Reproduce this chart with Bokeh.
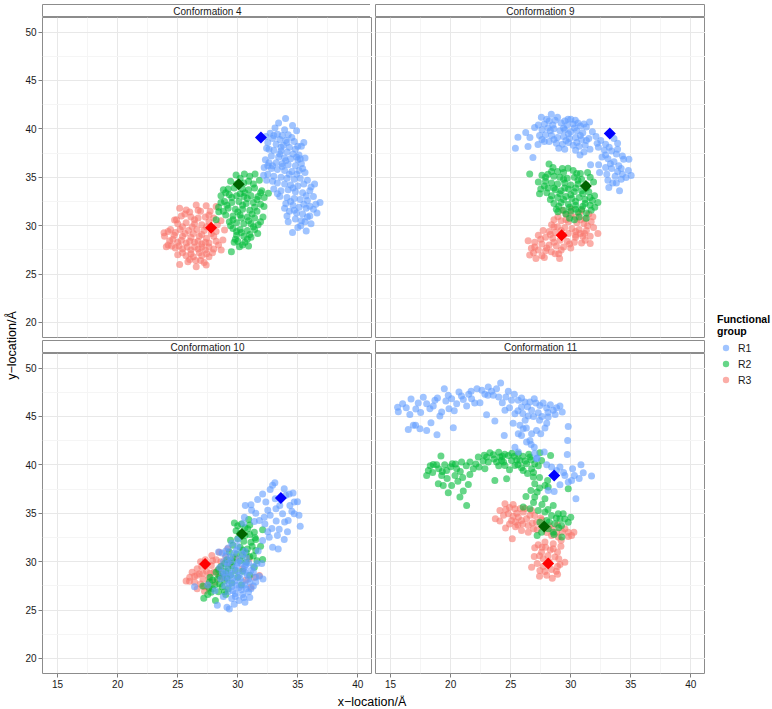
import math
from bokeh.plotting import figure
from bokeh.layouts import row, column
from bokeh.models import Range1d, LinearAxis, FixedTicker, Legend, LegendItem
from bokeh.core.properties import value
from bokeh.embed import file_html
from bokeh.resources import INLINE

# ---------------- data ----------------
GROUPS = ["R1", "R2", "R3"]
POINT_COLORS = ["#619CFF", "#00BA38", "#F8766D"]
CENTRE_COLORS = ["#0000FF", "#006400", "#FF0000"]
X_TICKS = [15, 20, 25, 30, 35, 40]
X_MINOR = [17.5, 22.5, 27.5, 32.5, 37.5]
Y_TICKS = [20, 25, 30, 35, 40, 45, 50]
Y_MINOR = [22.5, 27.5, 32.5, 37.5, 42.5, 47.5]
PANEL_TITLES = ["Conformation 4", "Conformation 9", "Conformation 10", "Conformation 11"]

C4_R1 = [(33.98,41.07),(34.56,40.34),(33.10,40.10),(32.70,39.55),(33.30,39.45),(33.70,39.30),(34.20,39.40),(34.50,39.10),
         (32.90,39.00),(33.50,38.90),(34.00,38.80),(34.70,38.70),(35.50,38.60),(35.30,38.20),(32.50,38.60),(33.20,38.40),
         (33.80,38.30),(34.30,38.10),(34.80,37.90),(32.40,38.00),(33.00,37.80),(33.60,37.70),(34.10,37.60),(34.60,37.40),
         (35.10,37.30),(32.80,37.20),(33.40,37.10),(33.90,37.00),(34.40,36.90),(35.00,36.80),(32.30,36.80),(32.60,36.50),
         (33.20,36.50),(33.70,36.40),(34.20,36.30),(34.80,36.20),(35.30,36.40),(35.60,37.00),(32.20,36.00),(32.80,35.90),
         (33.30,35.80),(33.90,35.70),(34.50,35.60),(35.10,35.70),(35.60,35.50),(32.50,35.30),(33.00,35.10),(33.60,35.00),
         (34.10,34.90),(34.70,34.80),(35.20,34.90),(32.40,34.70),(33.30,34.40),(33.90,34.30),(34.40,34.20),(35.00,34.10),
         (35.50,34.30),(36.10,34.00),(36.40,34.30),(33.00,33.80),(33.60,33.60),(34.20,33.70),(34.80,33.50),(35.40,33.40),
         (36.00,33.60),(36.30,33.00),(33.50,33.00),(34.10,32.90),(34.70,32.80),(35.20,32.70),(35.80,32.60),(36.85,32.40),
         (36.50,32.20),(34.00,32.30),(34.60,32.10),(35.10,31.90),(35.70,31.80),(36.30,31.70),(34.30,31.50),(34.90,31.30),
         (35.40,31.20),(36.00,31.00),(34.80,30.70),(35.30,30.50),(35.80,30.90),(35.25,30.00),(35.00,29.80),(35.70,29.45),
         (34.56,29.30),(34.10,31.00),(33.90,31.80),(36.10,30.20),(32.35,39.20),(32.15,35.20),
         (33.40,40.60),(34.90,39.80),(33.00,39.30),(33.90,39.90),(35.00,38.20),(32.60,37.90),(33.50,37.40),(34.90,37.10),
         (32.90,36.20),(34.00,36.70),(35.40,35.90),(34.30,35.30),(32.90,34.60),(35.80,34.70),(34.60,33.90),(33.30,33.30),
         (35.70,33.10),(34.40,32.50),(35.50,32.20),(36.60,31.30),(34.70,31.60),(35.60,30.40),(34.20,30.40),(36.00,32.00),
         (33.70,36.10),(35.20,36.90),(32.50,36.20),(34.10,38.60),(33.60,38.10),(34.90,35.30)]
C4_R2 = [(29.86,35.24),(30.55,35.34),(31.44,35.34),(31.00,35.10),(30.20,34.90),(29.40,34.60),(31.80,34.70),(28.80,33.70),
         (29.20,33.80),(29.70,33.90),(30.40,33.80),(30.90,33.70),(31.40,33.90),(32.00,33.60),(32.55,33.34),(28.60,33.10),
         (29.30,33.20),(29.90,33.10),(30.50,33.00),(31.10,33.10),(31.70,33.00),(32.20,32.90),(28.90,32.50),(29.50,32.40),
         (30.10,32.50),(30.70,32.30),(31.30,32.40),(31.90,32.20),(28.40,31.90),(29.20,31.80),(29.80,31.70),(30.40,31.70),
         (31.00,31.60),(31.60,31.50),(32.18,31.97),(28.42,31.45),(29.00,31.10),(29.60,31.00),(30.20,31.10),(30.80,30.90),
         (31.40,30.80),(32.10,30.90),(28.20,30.60),(29.30,30.40),(29.90,30.30),(30.50,30.20),(31.10,30.20),(31.70,30.10),
         (29.60,29.70),(30.20,29.60),(30.80,29.50),(31.40,29.60),(31.66,29.20),(29.90,29.00),(30.50,28.90),(31.10,28.80),
         (30.00,28.40),(30.60,28.30),(30.40,28.00),(30.14,27.83),(29.47,27.31),(29.80,28.60),
         (30.90,34.60),(29.90,34.30),(30.50,34.40),(31.30,34.30),(29.00,33.40),(31.90,33.40),(30.20,33.30),(29.50,32.90),
         (30.80,32.80),(31.60,32.70),(29.10,32.10),(30.40,32.10),(31.40,31.90),(28.80,31.50),(30.00,31.40),(31.20,31.20),
         (29.60,30.60),(30.90,30.50),(31.90,30.40),(30.30,30.80),(29.90,29.40),(31.00,29.10),(30.30,29.30),(30.80,28.60),
         (29.40,30.00),(28.60,32.40),(30.60,33.40),(31.30,29.90),(29.70,28.30),(30.90,27.90)]
C4_R3 = [(25.16,31.79),(25.71,31.62),(26.54,32.14),(27.37,32.07),(28.20,31.97),(26.00,31.40),(26.90,31.50),(27.70,31.50),
         (24.74,30.59),(25.30,31.00),(26.10,30.90),(26.70,30.80),(27.30,30.90),(28.00,30.80),(28.60,30.50),(25.00,30.20),
         (25.70,30.30),(26.40,30.20),(27.00,30.10),(28.30,30.10),(24.40,29.60),(23.86,29.28),(25.20,29.60),(25.90,29.50),
         (26.60,29.60),(27.20,29.50),(28.90,29.55),(24.70,29.00),(25.40,28.90),(26.10,28.80),(26.80,28.90),(27.40,28.70),
         (28.00,28.90),(24.33,28.45),(25.00,28.30),(25.70,28.20),(26.40,28.30),(27.00,28.10),(27.60,28.20),(28.76,28.52),
         (24.05,27.83),(24.80,27.70),(25.40,27.60),(26.10,27.50),(26.70,27.60),(27.30,27.50),(28.00,27.60),(28.62,27.48),
         (25.00,27.00),(25.70,26.90),(26.30,26.80),(27.00,26.90),(27.60,26.80),(25.85,26.28),(26.50,26.40),(27.20,26.20),
         (25.16,26.00),(26.54,25.76),(27.37,25.93),(23.90,28.90),(24.20,28.00),(28.20,29.40),(27.90,27.20),
         (25.60,31.20),(26.70,31.60),(27.60,31.10),(24.90,30.60),(26.40,30.60),(27.60,30.40),(25.40,29.90),(26.20,29.90),
         (27.40,29.90),(24.80,29.30),(25.60,29.20),(26.30,29.20),(27.00,29.10),(27.80,29.20),(24.60,28.60),(25.30,28.50),
         (26.00,28.40),(26.70,28.40),(27.30,28.30),(28.20,28.40),(24.50,27.90),(25.10,27.90),(25.80,27.80),(26.40,27.80),
         (27.00,27.80),(27.60,27.80),(25.40,27.20),(26.10,27.10),(26.80,27.20),(27.40,27.10),(26.00,26.50),(26.90,26.40),
         (28.40,28.00),(24.20,29.40)]

C9_R1 = [(25.39,38.00),(25.60,39.14),(26.25,39.62),(26.44,38.17),(26.85,37.03),(26.99,40.14),(27.27,38.38),(27.55,41.20),
         (28.38,41.50),(29.77,41.00),(30.38,40.90),(31.57,40.70),(27.80,40.50),(28.20,40.80),(28.70,40.90),(29.20,40.60),
         (29.70,40.40),(30.20,40.50),(30.80,40.30),(31.30,40.20),(27.60,39.90),(28.10,40.10),(28.60,40.00),(29.10,39.80),
         (29.50,39.90),(30.00,39.70),(30.50,39.80),(31.00,39.60),(31.80,39.70),(27.40,39.30),(27.90,39.40),(28.40,39.30),
         (28.90,39.10),(29.40,39.20),(29.90,39.00),(30.40,39.10),(30.90,38.90),(31.50,39.00),(28.20,38.70),(28.80,38.50),
         (29.30,38.40),(29.80,38.60),(30.20,38.30),(30.70,38.20),(31.20,38.30),(27.80,38.70),(29.00,38.00),(29.50,37.90),
         (30.40,37.80),(31.10,37.60),(31.60,37.90),(30.77,37.30),(31.65,36.30),(32.32,36.28),(32.40,35.50),(32.10,39.20),
         (32.50,38.80),(32.90,38.40),(33.60,39.00),(33.90,38.50),(32.30,38.10),(32.80,37.80),(33.40,37.70),(33.80,37.40),
         (32.60,37.10),(33.10,36.90),(33.60,36.60),(34.00,36.20),(34.40,36.86),(34.84,36.86),(33.40,35.90),(33.90,35.60),
         (34.30,35.30),(34.60,34.98),(35.03,35.17),(33.70,35.10),(34.20,34.80),(33.09,34.70),(33.17,33.94),(34.06,33.60),
         (33.80,34.40),
         (28.00,41.00),(28.90,41.20),(29.50,40.80),(30.00,41.00),(30.60,40.60),(28.50,40.40),(29.40,40.10),(30.30,40.10),
         (31.10,40.50),(27.30,40.40),(28.30,39.80),(29.80,39.50),(30.80,39.30),(28.60,38.90),(29.60,38.80),(30.50,38.60),
         (31.30,38.80),(26.60,39.10),(27.60,38.90),(32.20,38.50),(33.20,38.10),(33.90,37.90),(32.90,37.30),(34.30,37.20),
         (33.30,36.40),(34.20,35.90),(33.00,35.30),(34.80,35.70),(33.50,34.40),(32.90,36.00)]
C9_R2 = [(26.58,35.34),(28.19,36.38),(28.52,36.00),(29.77,35.93),(28.90,35.60),(29.40,35.50),(30.20,35.70),(30.80,35.40),
         (31.40,35.50),(27.60,35.20),(28.10,35.30),(28.60,35.10),(29.10,35.00),(29.70,34.90),(30.30,35.00),(30.90,34.80),
         (31.62,35.00),(27.30,34.50),(27.90,34.60),(28.40,34.40),(28.90,34.30),(29.50,34.40),(30.00,34.20),(30.60,34.30),
         (31.90,34.50),(27.50,33.80),(28.10,33.90),(28.70,33.70),(29.20,33.60),(29.80,33.80),(30.30,33.50),(30.90,33.60),
         (31.50,33.50),(31.98,33.08),(27.40,33.30),(28.40,33.10),(28.90,32.90),(29.60,33.00),(30.10,32.80),(30.70,32.90),
         (31.20,32.70),(31.80,32.60),(32.26,32.40),(28.60,32.30),(29.20,32.40),(29.80,32.20),(30.40,32.10),(31.00,32.00),
         (31.60,32.10),(28.80,31.70),(29.40,31.60),(30.00,31.50),(30.60,31.40),(31.30,31.30),(28.93,31.45),(29.90,30.76),
         (30.30,30.60),(31.29,30.76),(30.70,30.90),
         (28.40,35.60),(29.30,35.90),(30.50,35.40),(27.90,35.00),(29.40,34.80),(30.60,34.70),(31.30,34.20),(27.80,34.10),
         (28.60,33.90),(29.50,33.90),(30.40,33.90),(31.30,33.90),(28.00,33.40),(29.10,33.30),(30.00,33.20),(31.00,33.30),
         (31.60,32.90),(28.30,32.70),(29.40,32.70),(30.40,32.50),(31.20,32.30),(29.00,32.00),(29.90,31.90),(30.90,31.70),
         (29.60,31.20),(30.40,31.70),(31.70,31.60),(32.00,31.90)]
C9_R3 = [(30.04,31.70),(30.73,31.28),(28.93,30.93),(31.84,30.93),(29.60,31.20),(30.40,30.90),(31.20,30.70),(29.20,30.50),
         (29.80,30.40),(30.50,30.30),(31.10,30.20),(31.70,30.40),(28.40,30.10),(28.90,29.90),(29.50,29.80),(30.10,29.70),
         (30.70,29.60),(31.30,29.50),(32.26,29.20),(27.70,29.50),(28.20,29.40),(28.70,29.30),(29.80,29.20),(30.40,29.00),
         (31.00,28.90),(31.62,28.90),(27.30,29.00),(27.90,28.80),(28.50,28.70),(29.10,28.50),(29.70,28.40),(30.30,28.30),
         (30.90,28.20),(31.62,28.17),(26.45,28.45),(27.00,28.30),(27.60,28.10),(28.20,28.00),(28.80,27.90),(29.40,27.80),
         (30.00,27.70),(26.72,27.66),(27.30,27.50),(27.90,27.40),(28.38,27.30),(29.00,27.10),(26.58,26.97),(27.10,26.60),
         (27.60,26.90),(29.07,26.60),(31.15,29.20),(28.60,29.90),
         (29.30,31.60),(30.90,31.60),(30.00,31.10),(31.50,31.20),(28.60,30.60),(29.60,30.60),(30.80,30.60),(31.40,30.00),
         (29.20,29.50),(30.40,29.40),(31.90,29.80),(28.30,29.10),(29.40,29.00),(30.80,29.20),(27.50,28.60),(28.60,28.30),
         (29.90,28.10),(31.20,28.50),(27.00,27.80),(28.00,27.70),(29.20,27.50),(30.40,28.80),(26.90,27.20),(28.70,27.10),
         (27.80,26.70)]

C10_R1 = [(33.09,38.15),(33.87,37.53),(34.28,37.00),(32.70,37.46),(32.07,36.98),(31.65,36.43),(31.10,35.88),(30.63,35.80),
          (31.15,35.30),(34.70,36.15),(34.97,36.20),(34.70,34.95),(35.10,34.80),(35.20,33.67),(34.20,34.26),(33.73,34.95),
          (33.18,35.46),(32.70,34.80),(32.26,33.90),(32.62,32.53),(33.30,32.70),(33.87,32.30),(34.14,33.10),(33.37,31.30),
          (32.90,31.50),(32.07,32.19),(31.80,34.25),(30.55,34.60),(30.47,33.96),(31.38,34.15),(34.34,35.80),(34.00,36.85),
          (33.12,36.50),(32.34,36.15),(32.84,33.43),(33.45,33.36),
          (29.50,31.90),(29.20,31.40),(30.00,31.60),(29.70,30.90),(30.40,30.80),(29.00,30.60),(30.10,30.30),(30.70,30.40),
          (28.70,30.90),(28.80,30.00),(29.40,30.10),(30.30,29.80),(30.90,29.90),(31.30,29.50),(28.50,29.40),(29.10,29.50),
          (29.70,29.30),(30.50,29.20),(31.10,29.10),(28.90,28.80),(29.50,28.70),(30.10,28.60),(30.80,28.60),(31.50,28.40),
          (28.60,28.20),(29.20,28.10),(29.80,28.00),(30.40,27.90),(31.00,27.90),(31.80,28.50),(28.90,27.50),(29.50,27.40),
          (30.10,27.30),(30.70,27.20),(31.30,27.50),(29.20,26.90),(29.80,26.70),(30.40,26.60),(30.90,26.90),(29.50,26.20),
          (30.10,26.00),(30.60,25.80),(29.10,25.30),(29.30,25.10),(28.30,25.50),(27.50,27.60),(28.10,27.00),(31.00,26.30),
          (32.10,28.20),(32.00,29.80),(31.70,31.10),(28.40,31.00),(30.00,32.30),(26.40,27.40),
          (29.00,31.10),(29.90,31.20),(30.60,31.10),(29.40,30.50),(30.00,29.90),(30.70,29.70),(29.20,29.90),(29.90,29.60),
          (30.60,29.50),(31.60,29.80),(28.70,28.90),(29.30,28.90),(30.00,29.00),(30.60,28.90),(31.30,28.90),(29.00,28.40),
          (29.60,28.30),(30.20,28.30),(30.90,28.20),(31.50,27.90),(29.30,27.70),(29.90,27.60),(30.60,27.60),(29.60,27.00),
          (30.30,27.10),(31.10,27.20),(29.80,26.40),(30.50,26.30),(29.70,25.60),(28.80,26.40),
          (32.50,35.30),(33.50,35.80),(34.50,35.20),(33.90,34.10),(31.50,35.00),(32.20,34.60),(32.90,37.90),(34.60,37.10),
          (33.20,34.20),(32.50,33.10)]
C10_R2 = [(29.72,34.00),(30.91,34.36),(30.30,33.90),(30.60,33.50),(29.86,33.20),(30.83,33.40),(31.38,33.05),(32.07,33.30),
          (31.00,32.80),(31.44,32.47),(30.00,32.40),(30.50,32.10),(31.10,32.00),(29.60,31.70),(30.20,31.50),(30.80,31.30),
          (31.50,31.16),(29.90,30.80),(30.40,30.60),(31.00,30.50),(32.07,30.23),(31.60,30.10),(29.10,30.20),(29.60,30.00),
          (30.70,29.95),(31.38,29.43),(28.60,29.50),(29.20,29.30),(29.80,29.10),(30.40,29.00),(28.20,28.90),(28.80,28.70),
          (29.40,28.60),(30.00,28.40),(27.70,28.40),(28.30,28.20),(28.90,28.00),(29.50,27.80),(27.64,27.90),(28.10,27.60),
          (28.70,27.40),(29.20,27.20),(27.10,27.50),(27.60,27.30),(28.40,26.90),(27.78,26.85),(27.17,26.23),(28.14,25.99),
          (29.00,26.60),(30.30,27.60),(31.00,28.60),
          (30.00,33.70),(31.00,33.80),(30.60,32.70),(30.20,32.90),(31.20,31.60),(30.40,31.20),(29.30,31.00),(30.70,30.90),
          (29.60,30.40),(30.20,30.10),(31.30,30.60),(28.90,29.80),(29.50,29.60),(28.40,29.20),(29.00,29.00),(28.50,28.50),
          (29.10,28.30),(27.90,28.10),(28.50,27.70),(27.90,27.20),(28.90,26.90),(27.50,26.60),(31.50,32.30),(31.90,31.60),
          (29.40,32.20)]
C10_R3 = [(27.84,30.64),(28.47,30.98),(29.16,31.33),(26.62,29.26),(25.98,27.99),(26.40,28.50),(26.80,28.75),(27.23,26.95),
          (26.62,27.20),(25.70,28.00),(26.20,28.90),(27.00,29.50),(27.40,29.00),(27.80,29.60),(28.20,30.20),(27.10,28.20),
          (27.60,28.40),(28.00,28.90),(28.50,29.30),(26.90,27.70),(27.50,27.70),(28.10,27.90),(28.70,28.40),(29.30,29.80),
          (29.00,30.50),(30.96,30.30),(30.40,29.26),(31.38,28.40),(31.80,28.57),(31.10,27.36),(30.70,28.10),(29.80,30.40),
          (26.00,28.40),(27.30,30.20),
          (27.30,29.60),(26.60,28.60),(27.10,28.80),(27.70,28.80),(28.30,29.10),(26.40,27.90),(27.20,27.40),(28.40,28.60),
          (27.90,30.10),(28.60,30.00),(26.90,30.00),(27.60,27.20)]

C11_R1 = [(15.58,45.94),(15.64,45.49),(16.30,45.90),(16.60,45.20),(16.70,46.80),(16.47,43.66),(16.89,44.08),(17.08,44.10),
          (17.10,45.76),(17.44,43.73),(17.72,46.97),(18.00,43.56),(18.27,45.80),(18.36,44.35),(18.69,46.66),(18.86,43.11),
          (18.55,46.07),(19.10,45.04),(19.25,45.45),(19.47,47.86),(19.80,47.18),(19.86,45.80),(20.08,46.83),(20.22,43.83),
          (20.69,47.52),(20.50,46.31),(21.05,46.76),(21.33,46.07),(21.74,46.83),(22.19,47.86),(22.44,46.42),(22.85,47.28),
          (23.13,48.04),(22.99,45.18),(23.55,47.18),(23.82,47.86),(24.16,48.45),(24.30,46.42),(23.68,44.52),(24.52,45.63),
          (24.46,43.04),(24.80,47.59),(25.07,46.66),(25.35,45.28),(25.63,46.66),(25.90,45.97),(26.18,46.49),(25.77,44.08),
          (25.63,43.21),(26.04,43.73),(26.46,45.04),(26.74,45.63),(26.96,46.83),(27.15,43.56),(27.29,45.38),(27.43,46.14),
          (27.85,43.80),(27.99,45.87),(28.12,44.94),(28.54,45.63),(28.82,45.90),(29.10,46.07),(29.29,45.45),(29.79,43.97),
          (29.74,42.52),(29.71,41.08),(26.60,42.52),(26.96,41.83),(26.32,42.35),(25.90,43.04),(26.74,43.21),(25.35,41.83),
          (25.63,41.32),(27.20,40.70),(27.79,41.32),(28.40,39.77),(28.82,39.42),(29.10,39.77),(29.51,38.91),(30.07,38.39),
          (30.15,39.60),(30.85,40.00),(31.04,39.18),(31.73,38.84),(30.43,36.50),(29.79,38.22),(29.10,37.94),(28.62,37.25),
          (28.12,37.36),(27.15,40.63),(21.50,47.30),(23.40,47.60),(24.00,47.00),(26.00,45.30),(27.60,45.00),(26.40,46.00),
          (28.30,46.20),(20.30,45.60),(18.90,46.90),(17.50,45.40),(22.00,46.40),(25.20,44.30),
          (16.00,46.30),(17.30,46.40),(18.00,46.30),(19.60,46.60),(20.90,47.10),(21.70,47.60),(22.60,47.70),(23.10,47.20),
          (24.60,47.00),(25.30,47.30),(25.90,46.90),(26.60,46.50),(27.10,46.40),(27.70,46.40),(28.10,45.40),(28.70,45.20),
          (26.90,45.00),(25.60,45.60),(24.90,45.90),(27.40,44.60),(28.00,44.30),(26.20,44.60),(26.30,43.80),(27.50,43.20),
          (26.70,42.10),(27.00,41.20),(28.00,40.00),(29.40,39.20),(30.30,38.90),(30.70,38.60)]
C11_R2 = [(19.19,40.91),(18.55,40.04),(18.00,38.90),(18.14,39.42),(18.83,40.00),(18.97,38.05),(19.38,37.87),(19.80,37.12),
          (20.08,37.87),(20.13,40.11),(20.36,38.91),(20.77,36.67),(21.05,37.29),(21.33,35.81),(21.47,37.98),(21.61,40.29),
          (20.91,40.29),(19.66,39.42),(19.25,38.91),(20.50,39.60),(21.88,39.60),(22.30,40.80),(22.36,39.77),(22.85,39.60),
          (23.27,41.25),(23.68,38.39),(23.82,40.29),(24.10,40.80),(24.24,40.46),(24.52,39.94),(24.66,38.56),(24.80,40.97),
          (25.07,40.46),(25.35,39.94),(25.77,40.46),(26.04,39.42),(26.32,40.11),(26.60,40.80),(26.74,39.60),(27.00,40.11),
          (27.43,41.25),(27.57,40.46),(28.32,40.97),(25.63,41.15),(23.55,41.04),(23.13,40.29),(26.88,38.74),(27.00,38.05),
          (27.20,37.19),(26.68,37.36),(26.27,36.74),(27.00,36.67),(27.85,37.87),(28.12,37.70),(28.07,38.39),(29.79,37.53),
          (28.54,35.81),(27.85,36.50),(26.04,35.64),(26.60,35.46),(27.29,35.29),(27.85,35.12),(28.40,34.78),(28.96,34.95),
          (29.37,34.95),(29.10,34.43),(28.68,33.92),(29.79,34.08),(29.23,33.74),(28.12,33.40),(27.57,33.05),(27.20,32.71),
          (29.26,32.54),(28.54,33.05),(27.99,34.26),(27.43,34.08),(19.50,40.00),(20.00,39.80),(20.80,39.30),(19.00,39.60),
          (24.50,41.10),(25.30,40.90),(26.00,40.90),(26.50,41.10),(25.60,40.00),(24.00,39.90),(22.70,40.40),(21.30,39.90),
          (24.30,40.90),(25.90,39.70),(26.90,39.20),(23.00,40.80),(24.00,41.30),
          (18.30,39.90),(18.50,39.20),(19.30,39.30),(20.40,40.10),(20.60,38.30),(19.70,38.60),(21.00,38.70),(21.60,39.00),
          (22.10,40.10),(22.80,41.00),(23.60,40.60),(24.40,40.30),(24.90,39.50),(25.10,41.20),(25.50,40.50),(26.20,40.40),
          (26.70,40.50),(27.30,39.90),(26.40,39.10),(27.40,38.70),(27.40,37.60),(26.90,36.10),(27.60,35.90),(28.10,35.40),
          (28.80,34.50),(29.50,34.40),(28.20,34.10),(28.60,32.80),(29.00,33.50),(30.00,34.60)]
C11_R3 = [(24.10,35.29),(23.72,34.43),(24.52,35.98),(24.57,33.47),(24.80,34.95),(25.07,34.26),(25.13,32.36),(25.35,35.46),
          (25.63,34.60),(25.90,34.26),(26.04,35.12),(26.32,34.43),(26.46,33.74),(26.74,35.29),(27.00,34.78),(27.15,34.08),
          (27.57,33.74),(26.46,33.05),(25.90,33.22),(28.40,33.40),(28.82,33.05),(29.51,33.40),(29.79,33.05),(30.26,33.05),
          (30.07,32.71),(28.96,32.54),(28.40,32.71),(28.54,31.85),(27.85,32.02),(27.29,31.74),(27.00,31.43),(27.57,30.98),
          (28.54,31.33),(29.18,31.60),(26.96,30.54),(27.71,30.30),(28.68,30.47),(29.51,29.95),(29.10,29.71),(26.74,29.43),
          (27.43,29.09),(28.40,29.19),(28.46,28.30),(27.85,28.99),(24.90,35.60),(25.50,35.00),(26.20,35.50),(25.20,34.70),
          (24.40,34.80),(26.80,34.00),(27.50,34.50),(28.00,33.00),(27.20,33.30),(25.60,33.80),(28.90,33.80),(29.20,32.20),
          (27.90,31.50),(28.20,30.00),(27.40,30.60),(28.80,29.00),(27.20,29.80),(25.40,33.60),
          (24.60,35.40),(25.20,35.90),(25.80,35.50),(26.60,34.80),(25.40,34.10),(26.00,33.90),(24.90,33.90),(26.90,33.40),
          (27.60,34.30),(28.20,33.70),(29.30,33.10),(29.80,32.60),(28.30,31.20),(28.90,31.00),(27.60,31.50),(28.10,30.60),
          (29.00,30.30),(27.70,29.50),(28.90,29.50),(28.00,28.60),(27.40,28.50),(28.90,28.70),(24.10,34.20)]

# mean positions (diamonds), order R1, R2, R3
C4_CENTRES = [(31.93,39.10),(30.08,34.28),(27.78,29.79)]
C9_CENTRES = [(33.25,39.52),(31.26,34.10),(29.24,29.00)]
C10_CENTRES = [(33.59,36.57),(30.35,32.85),(27.28,29.75)]
C11_CENTRES = [(28.62,38.91),(27.79,33.64),(28.12,29.81)]

# ---------------- styling ----------------
FONT_NAME = "Liberation Sans"
FONT = value(FONT_NAME)
FW, FH = 330, 320
BORDER = "#8c8c8c"
TEXT = "#1a1a1a"
XR = Range1d(13.74, 41.22)
YR = Range1d(18.45, 51.5)


def xs(lst):
    return [p[0] for p in lst]


def ys(lst):
    return [p[1] for p in lst]


def base(width, height, left=0, bottom=0, top=0, right=0, xr=None, yr=None, outline=None):
    f = figure(frame_width=width, frame_height=height,
               x_range=xr if xr is not None else Range1d(0, 1),
               y_range=yr if yr is not None else Range1d(0, 1),
               x_axis_location=None, y_axis_location=None,
               toolbar_location=None, output_backend="svg",
               min_border_left=left, min_border_right=right,
               min_border_top=top, min_border_bottom=bottom,
               outline_line_color=outline, background_fill_color="white",
               border_fill_color="white")
    return f


def strip(label, left, top):
    s = base(FW, 13, left=left, top=top, outline=BORDER)
    s.xgrid.visible = False
    s.ygrid.visible = False
    s.text(x=[0.5], y=[0.45], text=[label], text_align="center", text_baseline="middle",
           text_font=FONT, text_font_size="10px", text_color=TEXT)
    return s


def axis(ticks):
    return LinearAxis(ticker=FixedTicker(ticks=ticks),
                      major_label_text_font=FONT_NAME, major_label_text_font_size="10px",
                      major_label_text_color=TEXT, major_label_standoff=2,
                      major_tick_out=4, major_tick_in=0, major_tick_line_color="#7f7f7f",
                      minor_tick_line_color=None, axis_line_color=None)


def panel(groups, centres, left, bottom, left_axis, bottom_axis):
    p = base(FW, FH, left=left, bottom=bottom, xr=XR, yr=YR, outline=BORDER)
    p.xgrid.ticker = FixedTicker(ticks=X_TICKS, minor_ticks=X_MINOR)
    p.ygrid.ticker = FixedTicker(ticks=Y_TICKS, minor_ticks=Y_MINOR)
    for g in (p.xgrid, p.ygrid):
        g.grid_line_color = "#e8e8e8"
        g.minor_grid_line_color = "#f5f5f5"
    if left_axis:
        p.add_layout(axis(Y_TICKS), "left")
    if bottom_axis:
        p.add_layout(axis(X_TICKS), "below")
    # draw R3, R2, R1 (R1 on top)
    for pts, col in reversed(list(zip(groups, POINT_COLORS))):
        p.scatter(xs(pts), ys(pts), size=7, fill_color=col, fill_alpha=0.6, line_color=None)
    for (cx, cy), col in zip(centres, CENTRE_COLORS):
        p.scatter([cx], [cy], marker="square", angle=math.pi / 4, size=8.5,
                  fill_color=col, line_color=None)
    return p


LEFT = 18
s4 = strip(PANEL_TITLES[0], LEFT, 4)
p4 = panel([C4_R1, C4_R2, C4_R3], C4_CENTRES, LEFT, 3, True, False)
s9 = strip(PANEL_TITLES[1], 3, 4)
p9 = panel([C9_R1, C9_R2, C9_R3], C9_CENTRES, 3, 3, False, False)
s10 = strip(PANEL_TITLES[2], LEFT, 0)
p10 = panel([C10_R1, C10_R2, C10_R3], C10_CENTRES, LEFT, 22, True, True)
s11 = strip(PANEL_TITLES[3], 3, 0)
p11 = panel([C11_R1, C11_R2, C11_R3], C11_CENTRES, 3, 22, False, True)

# y axis title (centred on the panel area below the first strip row)
yt = base(22, 656, top=17, bottom=22)
yt.xgrid.visible = False
yt.ygrid.visible = False
yt.text(x=[0.5], y=[0.5], text=["y\u2212location/\u00c5"], angle=math.pi / 2,
        text_align="center", text_baseline="middle", text_font=FONT,
        text_font_size="12.5px", text_color="black")

# x axis title
xt = base(663, 13, left=22 + LEFT)
xt.xgrid.visible = False
xt.ygrid.visible = False
xt.text(x=[0.5], y=[0.5], text=["x\u2212location/\u00c5"], text_align="center",
        text_baseline="middle", text_font=FONT, text_font_size="12.5px", text_color="black")

# legend (its own narrow plot to the right of the panels); the key glyphs are
# proxies whose single point lies outside this plot's ranges, so only the
# legend keys show
lf = base(67, 665, bottom=30)
lf.xgrid.visible = False
lf.ygrid.visible = False
items = []
for g, col, cen in zip(GROUPS, POINT_COLORS, C4_CENTRES):
    dot = lf.scatter(x=[cen[0]], y=[cen[1]], size=6, fill_color=col, fill_alpha=0.6, line_color=None)
    items.append(LegendItem(label=g, renderers=[dot]))
legend = Legend(items=items, location="center_left", title="Functional\ngroup",
                title_text_font=FONT_NAME, title_text_font_style="bold", title_text_font_size="10.5px",
                title_text_color="black", title_standoff=3,
                label_text_font=FONT_NAME, label_text_font_size="10.5px", label_text_color=TEXT,
                glyph_width=17, glyph_height=16, label_height=16, label_standoff=4,
                spacing=0, padding=0, margin=12, border_line_color=None, background_fill_alpha=0)
lf.add_layout(legend)

layout = column(
    row(yt, column(s4, p4, s10, p10), column(s9, p9, s11, p11), lf),
    xt,
)

open("out.html", "w").write(file_html(layout, INLINE))
